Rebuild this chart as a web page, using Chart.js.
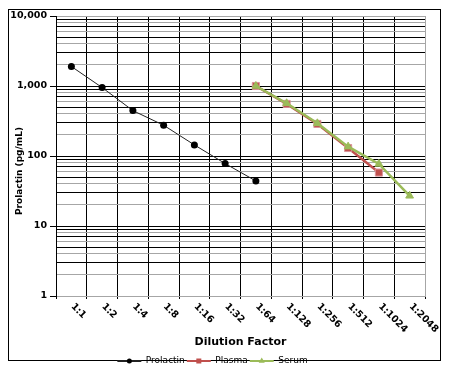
<!DOCTYPE html>
<html><head><meta charset="utf-8">
<script src="https://cdn.jsdelivr.net/npm/chart.js@4/dist/chart.umd.min.js"></script>
<style>
html,body{margin:0;padding:0;background:#fff;}
#wrap{position:relative;width:450px;height:371px;}
#frame{position:absolute;left:8px;top:9px;width:431px;height:350px;border:1px solid #000;}
canvas{position:absolute;left:0;top:0;}
</style></head><body>
<div id="wrap"><div id="frame"></div><canvas id="c" width="450" height="371"></canvas></div>
<script>
const categories = ['1:1','1:2','1:4','1:8','1:16','1:32','1:64','1:128','1:256','1:512','1:1024','1:2048'];
const prolactin = [1900, 950, 445, 275, 144, 78, 44, null, null, null, null, null];
const plasma    = [null, null, null, null, null, null, 1000, 555, 287, 130, 58, null];
const serum     = [null, null, null, null, null, null, 1000, 566, 293, 136, 77, 27];
const yTickValues = [1, 10, 100, 1000, 10000];
const yTickLabels = ['1', '10', '100', '1,000', '10,000'];
const yMinorMultipliers = [2, 3, 4, 5, 6, 7, 8, 9];
const seriesNames = ['Prolactin', 'Plasma', 'Serum'];
const xTitle = 'Dilution Factor';
const yTitle = 'Prolactin (pg/mL)';

const FONT = '"DejaVu Sans", Verdana, sans-serif';
const GRAY = '#a6a6a6';

function drawMarker(ctx, style, cx, cy, r, color) {
  ctx.fillStyle = color;
  ctx.beginPath();
  if (style === 'rect') {
    ctx.rect(cx - r, cy - r, 2 * r, 2 * r);
  } else if (style === 'triangle') {
    ctx.moveTo(cx, cy - r);
    ctx.lineTo(cx + r * 0.87, cy + r * 0.5);
    ctx.lineTo(cx - r * 0.87, cy + r * 0.5);
    ctx.closePath();
  } else {
    ctx.arc(cx, cy, r, 0, Math.PI * 2);
  }
  ctx.fill();
}

const customDraw = {
  id: 'customDraw',
  afterDraw(chart) {
    const ctx = chart.ctx, xs = chart.scales.x, ys = chart.scales.y;
    ctx.save();
    ctx.fillStyle = '#000';
    ctx.font = 'bold 9.5px ' + FONT;
    ctx.textAlign = 'left';
    ctx.textBaseline = 'middle';
    categories.forEach((lab, i) => {
      const x = xs.getPixelForValue(i);
      ctx.save();
      ctx.translate(x + 1, xs.top + 9);
      ctx.rotate(Math.PI / 4);
      ctx.fillText(lab, 0, 0);
      ctx.restore();
    });
    ctx.save();
    ctx.font = 'bold 9px ' + FONT;
    ctx.textAlign = 'center';
    ctx.translate(20, (ys.top + ys.bottom) / 2 + 15);
    ctx.rotate(-Math.PI / 2);
    ctx.fillText(yTitle, 0, 0);
    ctx.restore();
    const lg = chart.legend;
    lg.legendHitBoxes.forEach((hb, i) => {
      const item = lg.legendItems[i];
      const ds = chart.data.datasets[item.datasetIndex];
      const cx = hb.left + lg.options.labels.boxWidth / 2;
      const cy = hb.top + hb.height / 2;
      drawMarker(ctx, ds.pointStyle, cx, cy, ds.legendMarkerSize, ds.pointBackgroundColor);
    });
    ctx.restore();
  }
};

function yGridColor(c) {
  const v = c.tick && c.tick.value;
  if (v === undefined) return '#000';
  if (v === 1 || v === 10000) return GRAY;
  const e = Math.floor(Math.log10(v) + 1e-9);
  const m = Math.round(v / Math.pow(10, e));
  if (m === 1) return '#000';
  return (m % 2 === 1) ? '#000' : GRAY;
}

new Chart(document.getElementById('c'), {
  type: 'line',
  data: {
    labels: categories,
    datasets: [
      { label: seriesNames[0], data: prolactin, borderColor: '#222', backgroundColor: '#000', borderWidth: 1,
        pointStyle: 'circle', pointRadius: 3.5, pointBackgroundColor: '#000', pointBorderColor: '#000', pointBorderWidth: 0,
        legendMarkerSize: 2.5, order: 2 },
      { label: seriesNames[1], data: plasma, borderColor: '#C0504D', backgroundColor: '#C0504D', borderWidth: 2.5,
        pointStyle: 'rect', pointRadius: 5, pointBackgroundColor: '#C0504D', pointBorderColor: '#D9959A', pointBorderWidth: 1,
        legendMarkerSize: 2.5, order: 1 },
      { label: seriesNames[2], data: serum, borderColor: '#9BBB59', backgroundColor: '#9BBB59', borderWidth: 2.5,
        pointStyle: 'triangle', pointRadius: 4.5, pointBackgroundColor: '#9BBB59', pointBorderColor: '#9BBB59', pointBorderWidth: 1,
        legendMarkerSize: 3.5, order: 0 }
    ]
  },
  options: {
    responsive: false,
    animation: false,
    devicePixelRatio: 1,
    layout: { padding: { top: 16, right: 25, bottom: -4.5, left: 0 } },
    plugins: {
      tooltip: { enabled: false },
      legend: {
        position: 'bottom',
        labels: {
          font: { family: FONT, size: 9 },
          color: '#000',
          boxWidth: 24,
          boxHeight: 2,
          padding: 2,
          sort: (a, b) => a.datasetIndex - b.datasetIndex,
          generateLabels(chart) {
            const items = Chart.defaults.plugins.legend.labels.generateLabels(chart);
            items.forEach(it => {
              const ds = chart.data.datasets[it.datasetIndex];
              it.fillStyle = ds.borderColor;
              it.strokeStyle = ds.borderColor;
              it.lineWidth = 0;
            });
            return items;
          }
        }
      }
    },
    scales: {
      x: {
        type: 'category',
        offset: true,
        grid: { offset: true, color: c => (c.index === undefined ? GRAY : '#000'), lineWidth: 1,
                drawTicks: true, tickLength: 3, tickColor: '#000' },
        border: { display: true, color: GRAY, width: 1 },
        ticks: { display: false },
        title: { display: true, text: xTitle, color: '#000', font: { family: FONT, size: 11, weight: 'bold' },
                 padding: { top: 0, bottom: 6 } },
        afterFit: s => { s.height = 58.5; }
      },
      y: {
        type: 'logarithmic',
        min: 1,
        max: 10000,
        afterBuildTicks: s => {
          const t = [];
          yTickValues.forEach((v, i) => {
            t.push({ value: v });
            if (i < yTickValues.length - 1) yMinorMultipliers.forEach(m => t.push({ value: v * m }));
          });
          s.ticks = t;
        },
        grid: { color: yGridColor, lineWidth: 1, drawTicks: true, tickLength: 6,
                tickColor: c => (yTickValues.includes(c.tick && c.tick.value) ? '#000' : 'rgba(0,0,0,0)') },
        border: { display: true, color: '#000', width: 1 },
        ticks: {
          autoSkip: false,
          padding: 3,
          color: '#000',
          font: { family: FONT, size: 9.5, weight: 'bold' },
          callback: v => { const i = yTickValues.indexOf(v); return i >= 0 ? yTickLabels[i] : ''; }
        },
        afterFit: s => { s.width = 56; }
      }
    }
  },
  plugins: [customDraw]
});
</script>
</body></html>
